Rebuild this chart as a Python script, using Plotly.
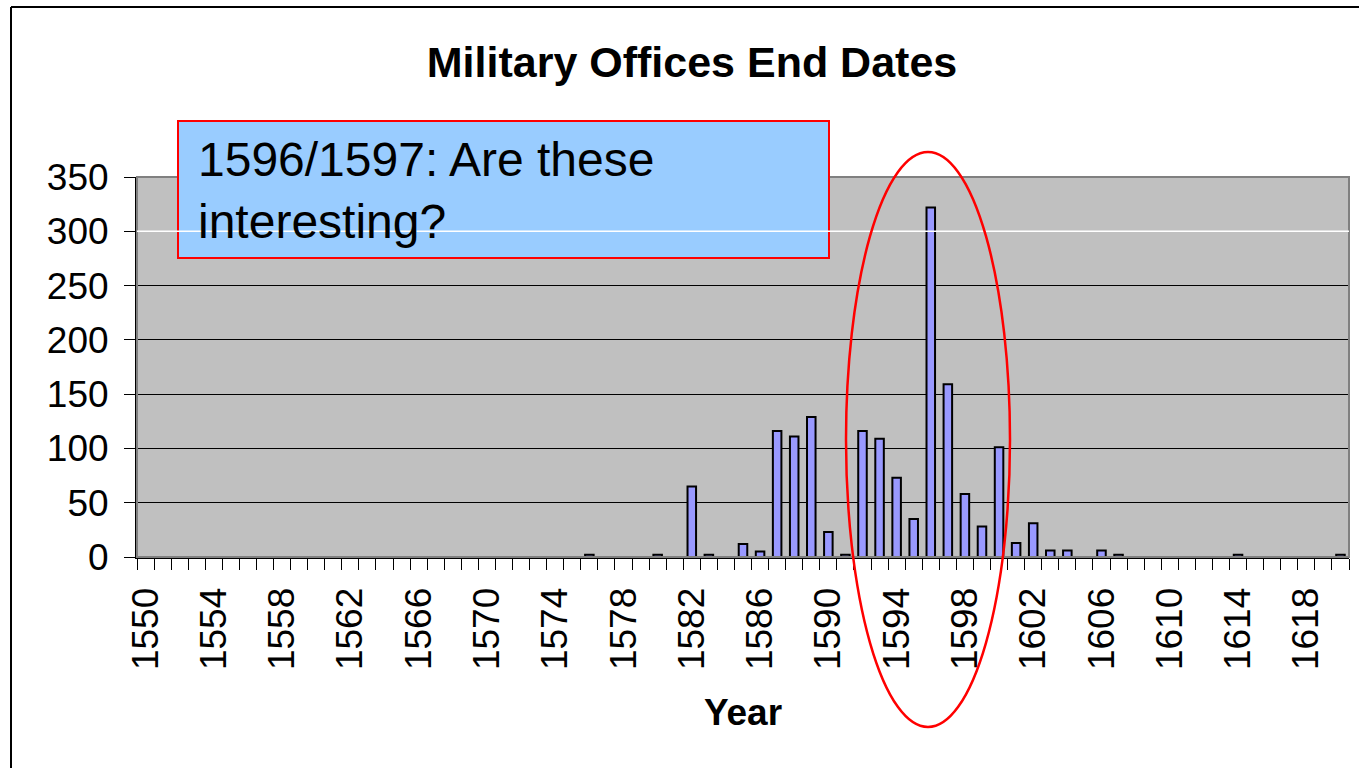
import plotly.graph_objects as go

# datos
years = [1576, 1580, 1582, 1583, 1585, 1586, 1587, 1588, 1589, 1590,
         1591, 1592, 1593, 1594, 1595, 1596, 1597, 1598, 1599, 1600,
         1601, 1602, 1603, 1604, 1606, 1607, 1614, 1620]
counts = [2, 2, 65, 2, 12, 5, 116, 111, 129, 23,
          2, 116, 109, 73, 35, 322, 159, 58, 28, 101,
          13, 31, 6, 6, 6, 2, 2, 2]
tick_years = [1550, 1554, 1558, 1562, 1566, 1570, 1574, 1578, 1582, 1586,
              1590, 1594, 1598, 1602, 1606, 1610, 1614, 1618]
y_ticks = [0, 50, 100, 150, 200, 250, 300, 350]

W, H = 1359, 768
L, R, T, B = 137, 10, 177, 211
FONT = "Liberation Sans, Arial, sans-serif"


## pixel -> paper
def xp(px):
  return (px - L) / (W - L - R)

def yp(py):
  return (H - B - py) / (H - T - B)


fig = go.Figure()
fig.add_trace(go.Bar(x=years, y=counts, width=0.5,
                     marker=dict(color='#9999FF', line=dict(color='black', width=2))))

fig.update_layout(width=W, height=H,
                  showlegend=False,
                  margin=dict(l=L, r=R, t=T, b=B),
                  paper_bgcolor='white',
                  plot_bgcolor='#C0C0C0',
                  font=dict(family=FONT, color='black'),
                  title=dict(text='<b>Military Offices End Dates</b>',
                             font=dict(size=43, family=FONT),
                             x=xp(692), xref='paper', xanchor='center',
                             y=1 - 62 / H, yref='container', yanchor='middle'))

fig.update_xaxes(range=[1549.5, 1620.5],
                 tickvals=tick_years, ticktext=[str(t) for t in tick_years],
                 tickangle=-90, tickfont=dict(size=37),
                 ticks='outside', ticklen=14, tickcolor='rgba(0,0,0,0)',
                 minor=dict(ticks='outside', tick0=1549.5, dtick=1,
                            ticklen=11, tickcolor='black', tickwidth=1),
                 showgrid=False, zeroline=False,
                 showline=True, linecolor='black', linewidth=2,
                 title=dict(text='<b>Year</b>', font=dict(size=37), standoff=30))

fig.update_yaxes(range=[0, 350], tickvals=y_ticks,
                 tickfont=dict(size=37),
                 ticks='outside', ticklen=11, tickcolor='black',
                 ticklabelstandoff=8,
                 showgrid=True, gridcolor='black', gridwidth=1,
                 zeroline=False,
                 showline=True, linecolor='black', linewidth=2)

# borde gris del area de trazado
fig.add_shape(type='rect', xref='paper', yref='paper', x0=0, x1=1, y0=0, y1=1,
              line=dict(color='#808080', width=2), layer='above')

# recuadro del comentario
fig.add_shape(type='rect', xref='paper', yref='paper',
              x0=xp(178), x1=xp(829), y0=yp(258), y1=yp(121),
              fillcolor='#99CCFF', line=dict(color='red', width=2), layer='above')

# linea blanca en 300
fig.add_shape(type='line', xref='paper', yref='y', x0=0, x1=1, y0=300, y1=300,
              line=dict(color='white', width=1.5), layer='above')

# elipse roja
fig.add_shape(type='circle', xref='paper', yref='paper',
              x0=xp(846), x1=xp(1010), y0=yp(727), y1=yp(152),
              line=dict(color='red', width=2.5), layer='above')

# marco exterior
fig.add_shape(type='line', xref='paper', yref='paper',
              x0=xp(11), x1=xp(W + 5), y0=yp(7), y1=yp(7),
              line=dict(color='black', width=2))
fig.add_shape(type='line', xref='paper', yref='paper',
              x0=xp(11), x1=xp(11), y0=yp(7), y1=yp(H + 5),
              line=dict(color='black', width=2))

fig.add_annotation(text='1596/1597: Are these<br>interesting?',
                   xref='paper', yref='paper', x=xp(196), y=yp(190),
                   xanchor='left', yanchor='middle', align='left',
                   showarrow=False, font=dict(size=48, family=FONT))

# sin margen del body para que la figura empiece en (0,0)
fig.write_html("out.html", config={'displayModeBar': False},
               post_script="document.body.style.margin='0';")
